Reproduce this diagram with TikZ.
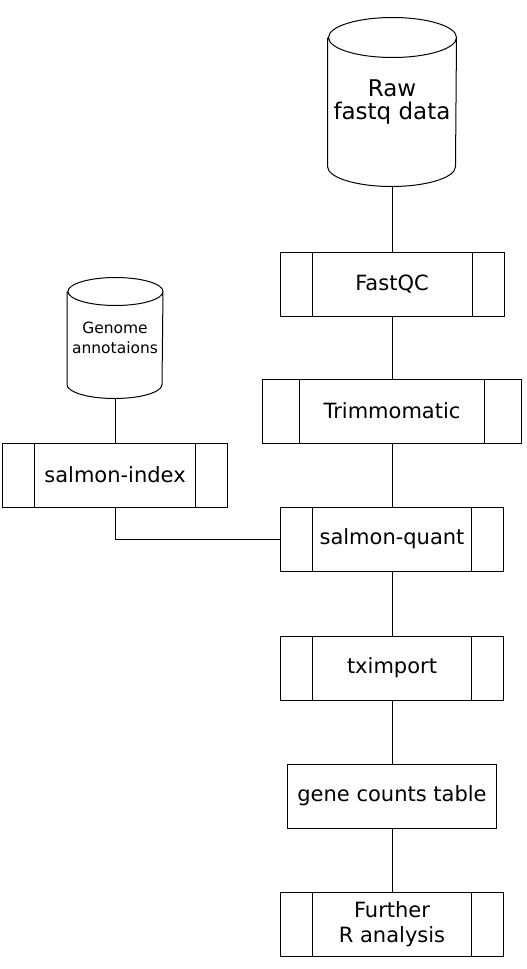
\documentclass[tikz,border=0pt]{standalone}
\usepackage{fontspec}
\setmainfont{DejaVu Sans}

\tikzset{
  dbbody/.style={rectangle, inner sep=0pt, align=center},
  procbox/.style={draw, rectangle, minimum height=64pt, inner sep=0pt,
    path picture={
      \draw ([xshift=#1]path picture bounding box.north west) -- ([xshift=#1]path picture bounding box.south west);
      \draw ([xshift=-#1]path picture bounding box.north east) -- ([xshift=-#1]path picture bounding box.south east);
    }},
  procbox/.default=32pt,
  plainbox/.style={draw, rectangle, minimum height=64pt, inner sep=0pt},
  bigtxt/.style={font=\fontsize{21}{25}\selectfont, align=center},
}

\begin{document}
\begin{tikzpicture}[x=1pt,y=-1pt,line width=1pt]
                \useasboundingbox (0,0) rectangle (527,969);

                % Raw data cylinder
                \node[dbbody, minimum width=128pt, minimum height=128pt, font=\fontsize{23}{23}\selectfont] (raw) at (392,102) {Raw\\fastq data};
                \draw (raw.north west) -- (raw.south west)
                      arc[start angle=180, end angle=360, x radius=64pt, y radius=20pt]
                      -- (raw.north east)
                      arc[start angle=0, end angle=360, x radius=64pt, y radius=20pt];
                \coordinate (rawbot) at ([yshift=-20pt]raw.south);

                % Genome cylinder
                \node[dbbody, minimum width=95pt, minimum height=92pt, font=\fontsize{15.5}{20}\selectfont] (genome) at (115,338) {Genome\\annotaions};
                \draw (genome.north west) -- (genome.south west)
                      arc[start angle=180, end angle=360, x radius=47.5pt, y radius=14pt]
                      -- (genome.north east)
                      arc[start angle=0, end angle=360, x radius=47.5pt, y radius=14pt];
                \coordinate (genomebot) at ([yshift=-14pt]genome.south);

                % Pipeline steps
                \node[procbox, minimum width=224pt, bigtxt] (fastqc) at (392,284) {FastQC};
                \node[procbox=37pt, minimum width=259pt, bigtxt] (trim) at (392,411) {Trimmomatic};
                \node[procbox, minimum width=225pt, bigtxt] (sindex) at (115,475) {salmon-index};
                \node[procbox, minimum width=223pt, bigtxt] (squant) at (392,539) {salmon-quant};
                \node[procbox, minimum width=223pt, bigtxt] (tximp) at (392,668) {tximport};
                \node[plainbox, minimum width=209pt, bigtxt] (counts) at (392,796) {gene counts table};
                \node[procbox, minimum width=223pt, bigtxt] (further) at (392,924) {Further\\R analysis};

                % Links
                \draw (rawbot) -- (fastqc.north);
                \draw (fastqc) -- (trim);
                \draw (trim) -- (squant);
                \draw (genomebot) -- (sindex.north);
                \draw (sindex.south) |- (squant.west);
                \draw (squant) -- (tximp);
                \draw (tximp) -- (counts);
                \draw (counts) -- (further);
            \end{tikzpicture}
\end{document}
